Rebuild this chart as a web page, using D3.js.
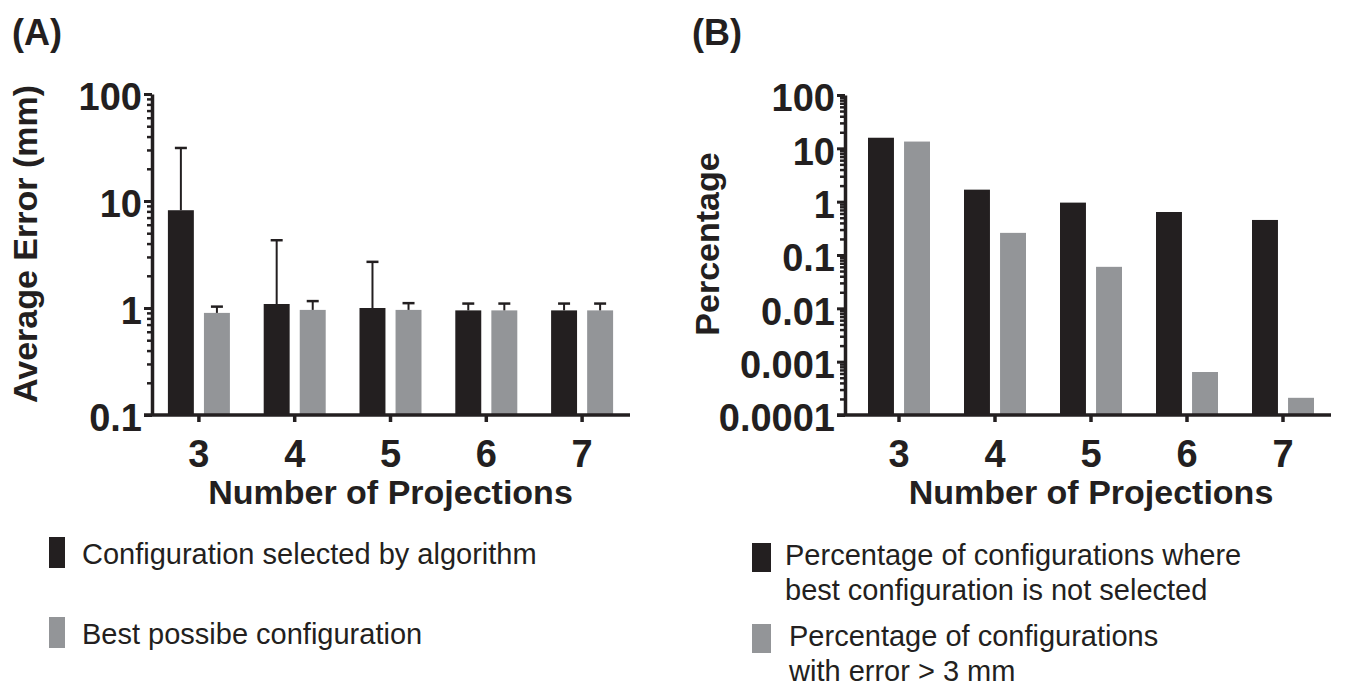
<!DOCTYPE html>
<html>
<head>
<meta charset="utf-8">
<script src="https://cdnjs.cloudflare.com/ajax/libs/d3/7.8.5/d3.min.js"></script>
<style>
  body { margin: 0; background: #fff; }
  svg { display: block; font-family: "Liberation Sans", Arial, sans-serif; }
  .bold { font-weight: bold; fill: #231f20; }
  .legend text { font-size: 29px; fill: #231f20; }
</style>
</head>
<body>
<svg id="chart" width="1345" height="689"></svg>
<script>
//DATA

var projections = [3, 4, 5, 6, 7];

// panel A: average error (mm)
var errSelected = [8.2, 1.09, 1.0, 0.95, 0.95];
var errSelectedTop = [31.3, 4.3, 2.7, 1.1, 1.1];   // upper end of error bar
var errBest = [0.9, 0.96, 0.96, 0.95, 0.95];
var errBestTop = [1.03, 1.16, 1.11, 1.1, 1.1];
var ticksA = [0.1, 1, 10, 100];

// panel B: percentage
var pctNotSelected = [15.8, 1.68, 0.96, 0.64, 0.454];
var pctOver3mm = [13.4, 0.26, 0.06, 0.00064, 0.00021];
var ticksB = [0.0001, 0.001, 0.01, 0.1, 1, 10, 100];

var legendA = ["Configuration selected by algorithm", "Best possibe configuration"];
var legendB = [["Percentage of configurations where", "best configuration is not selected"],
               ["Percentage of configurations", "with error > 3 mm"]];

var dark = "#231f20", grey = "#939598";

var svg = d3.select("#chart");

function drawPanel(opt) {
  var g = svg.append("g");

  var y = d3.scaleLog().domain(opt.domain).range([415, opt.top]);
  var x = d3.scaleBand().domain(projections).range(opt.xRange);
  var inner = d3.scaleBand().domain([0, 1]).range([-31, 31]).paddingInner(0.28);

  // bars
  var series = [opt.a, opt.b];
  series.forEach(function(vals, s) {
    g.selectAll(".bar" + s)
      .data(vals)
      .enter().append("rect")
        .attr("x", function(d, i) { return x(projections[i]) + x.bandwidth() / 2 + inner(s); })
        .attr("y", function(d) { return y(d); })
        .attr("width", inner.bandwidth())
        .attr("height", function(d) { return y(opt.domain[0]) - y(d); })
        .attr("fill", s == 0 ? dark : grey);
  });

  // error bars (upper only)
  if (opt.aTop) {
    [opt.aTop, opt.bTop].forEach(function(tops, s) {
      var vals = series[s];
      tops.forEach(function(t, i) {
        var cx = x(projections[i]) + x.bandwidth() / 2 + inner(s) + inner.bandwidth() / 2;
        g.append("line")
          .attr("x1", cx).attr("x2", cx)
          .attr("y1", y(vals[i])).attr("y2", y(t))
          .attr("stroke", dark).attr("stroke-width", 2);
        g.append("line")
          .attr("x1", cx - 6).attr("x2", cx + 6)
          .attr("y1", y(t)).attr("y2", y(t))
          .attr("stroke", dark).attr("stroke-width", 2.5);
      });
    });
  }

  // y axis: minor ticks then major ticks
  var minors = y.ticks().filter(function(d) { return opt.ticks.indexOf(d) < 0; });
  g.append("g")
    .attr("transform", "translate(" + opt.axisX + ",0)")
    .call(d3.axisLeft(y).tickValues(minors).tickSize(5).tickSizeOuter(0).tickFormat(""))
    .call(function(a) { a.select(".domain").remove(); a.selectAll("line").attr("stroke", dark).attr("stroke-width", 2.5); });

  var yAx = g.append("g")
    .attr("transform", "translate(" + opt.axisX + ",0)")
    .call(d3.axisLeft(y).tickValues(opt.ticks).tickSize(8).tickSizeOuter(0).tickPadding(2)
      .tickFormat(function(d) { return String(d); }));
  yAx.select(".domain").attr("stroke", dark).attr("stroke-width", 3.5);
  yAx.selectAll("line").attr("stroke", dark).attr("stroke-width", 3);
  yAx.selectAll("text")
    .attr("class", "bold")
    .attr("font-size", 38)
    .attr("font-family", null)
    .attr("dy", "0.42em");

  // x axis
  var xAx = g.append("g")
    .attr("transform", "translate(0,415)")
    .call(d3.axisBottom(x).tickSize(7).tickSizeOuter(0).tickPadding(18));
  xAx.select(".domain").remove();
  xAx.selectAll("line").attr("stroke", dark).attr("stroke-width", 3.5);
  xAx.selectAll("text")
    .attr("class", "bold")
    .attr("font-size", 38)
    .attr("font-family", null);

  g.append("line")
    .attr("x1", opt.axisX - 8).attr("x2", opt.xRange[1])
    .attr("y1", 415).attr("y2", 415)
    .attr("stroke", dark).attr("stroke-width", 3.5);

  g.append("text")
    .attr("class", "bold")
    .attr("x", (opt.xRange[0] + opt.xRange[1]) / 2)
    .attr("y", 504)
    .attr("text-anchor", "middle")
    .attr("font-size", 34)
    .text("Number of Projections");

  g.append("text")
    .attr("class", "bold")
    .attr("transform", "translate(" + opt.labelX + ",244) rotate(-90)")
    .attr("text-anchor", "middle")
    .attr("font-size", 34)
    .text(opt.yLabel);

  g.append("text")
    .attr("class", "bold")
    .attr("x", opt.tagX)
    .attr("y", 45)
    .attr("font-size", 36)
    .text(opt.tag);
}

drawPanel({
  domain: [0.1, 100], top: 94, ticks: ticksA,
  xRange: [151, 630], axisX: 152,
  a: errSelected, b: errBest, aTop: errSelectedTop, bTop: errBestTop,
  yLabel: "Average Error (mm)", labelX: 37, tag: "(A)", tagX: 12
});

drawPanel({
  domain: [0.0001, 100], top: 95, ticks: ticksB,
  xRange: [851, 1331], axisX: 845,
  a: pctNotSelected, b: pctOver3mm,
  yLabel: "Percentage", labelX: 719, tag: "(B)", tagX: 692
});

//LEGENDS

var la = svg.append("g").attr("class", "legend");
la.selectAll("rect")
  .data(legendA)
  .enter().append("rect")
    .attr("x", 49)
    .attr("y", function(d, i) { return 537 + i * 80; })
    .attr("width", 16)
    .attr("height", 31)
    .attr("fill", function(d, i) { return i == 0 ? dark : grey; });
la.selectAll("text")
  .data(legendA)
  .enter().append("text")
    .attr("x", 82)
    .attr("y", function(d, i) { return 564 + i * 80; })
    .text(function(d) { return d; });

var lb = svg.append("g").attr("class", "legend");
lb.selectAll("rect")
  .data(legendB)
  .enter().append("rect")
    .attr("x", 752)
    .attr("y", function(d, i) { return 543 + i * 81; })
    .attr("width", 19)
    .attr("height", 29)
    .attr("fill", function(d, i) { return i == 0 ? dark : grey; });
legendB.forEach(function(lines, i) {
  var t = lb.append("text")
    .attr("x", 785 + i * 4)
    .attr("y", 565 + i * 81);
  lines.forEach(function(l, j) {
    t.append("tspan")
      .attr("x", 785 + i * 4)
      .attr("dy", j == 0 ? 0 : 35)
      .text(l);
  });
});
</script>
</body>
</html>
